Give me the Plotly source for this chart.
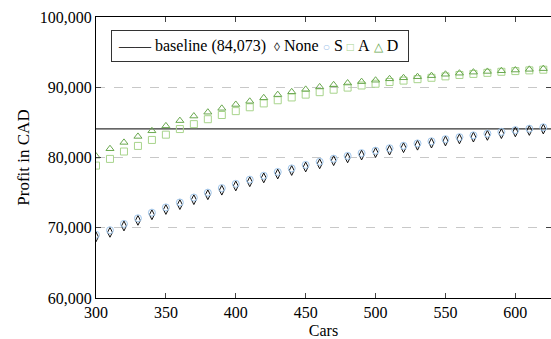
import plotly.graph_objects as go

cars = list(range(300, 621, 10))
baseline = 84073

none_vals = [68700, 69350, 70250, 71050, 71850, 72600, 73300, 74000, 74700, 75350,
             75950, 76550, 77100, 77650, 78150, 78650, 79100, 79550, 79950, 80350,
             80700, 81050, 81400, 81750, 82050, 82350, 82650, 82900, 83150, 83400,
             83650, 83850, 84050]
s_vals = [69000, 69650, 70550, 71350, 72150, 72900, 73600, 74300, 75000, 75650,
          76250, 76850, 77400, 77950, 78450, 78950, 79400, 79830, 80230, 80620,
          80970, 81320, 81670, 82010, 82310, 82610, 82900, 83150, 83400, 83650,
          83900, 84100, 84300]
a_vals = [78850, 79800, 80850, 81650, 82500, 83250, 84050, 84750, 85450, 86050,
          86600, 87150, 87700, 88150, 88550, 88950, 89300, 89650, 89950, 90250,
          90500, 90750, 90950, 91150, 91350, 91550, 91750, 91900, 92050, 92200,
          92300, 92400, 92500]
d_vals = [80200, 81250, 82150, 83000, 83800, 84500, 85250, 85900, 86450, 87000,
          87550, 88000, 88500, 88950, 89350, 89700, 90050, 90350, 90600, 90800,
          91000, 91200, 91350, 91500, 91650, 91850, 92000, 92150, 92250, 92350,
          92450, 92550, 92650]

x_ticks = [300, 350, 400, 450, 500, 550, 600]
y_ticks = [60000, 70000, 80000, 90000, 100000]

C_NONE = "#111111"
C_S = "#9fc5ea"
C_A = "#a8d48c"
C_D = "#6aa84f"

FONT = "Liberation Serif"

fig = go.Figure()
fig.add_hline(y=baseline, line=dict(color="#333333", width=1.3), layer="below")

series = [
    ("None", none_vals, "diamond-tall-open", C_NONE, 7),
    ("S", s_vals, "circle-open", C_S, 7),
    ("A", a_vals, "square-open", C_A, 7),
    ("D", d_vals, "triangle-up-open", C_D, 7),
]
for name, vals, sym, col, sz in series:
    fig.add_trace(go.Scatter(
        x=cars, y=vals, mode="markers", name=name, showlegend=False,
        marker=dict(symbol=sym, color=col, size=sz, line=dict(color=col, width=1)),
    ))

sp = "&nbsp;"
legend_text = (
    "<span style='color:#333333'>——</span>" + sp + "baseline (84,073)" + sp + sp
    + f"<span style='color:{C_NONE};font-size:12px'>◊</span>" + sp + "None" + sp
    + f"<span style='color:{C_S};font-size:12px'>○</span>" + sp + "S" + sp
    + f"<span style='color:{C_A};font-size:12px'>□</span>" + sp + "A" + sp
    + f"<span style='color:{C_D};font-size:12px'>△</span>" + sp + "D" + sp
)
fig.add_annotation(
    xref="paper", yref="paper", x=0.033, y=0.955, xanchor="left", yanchor="top",
    text=legend_text, showarrow=False, align="left",
    font=dict(family=FONT, size=16, color="black"),
    bordercolor="#333333", borderwidth=1, borderpad=6, bgcolor="white",
)

fig.update_layout(
    width=551, height=339,
    margin=dict(l=96, r=0, t=17, b=41),
    paper_bgcolor="white", plot_bgcolor="white",
    font=dict(family=FONT, size=16, color="black"),
    xaxis=dict(
        range=[300, 625.5], tickvals=x_ticks, showgrid=False, zeroline=False,
        showline=True, linecolor="black", linewidth=1, mirror="ticks",
        ticks="inside", ticklen=5, tickcolor="#444444",
        title=dict(text="Cars", font=dict(size=16), standoff=4),
        tickfont=dict(size=16),
    ),
    yaxis=dict(
        range=[60000, 100000], tickvals=y_ticks, tickformat=",d",
        showgrid=True, gridcolor="#c8c8c8", griddash="dash", gridwidth=1,
        zeroline=False, showline=True, linecolor="black", linewidth=1,
        mirror="ticks", ticks="inside", ticklen=5, tickcolor="#444444",
        title=dict(text="Profit in CAD", font=dict(size=17), standoff=5),
        tickfont=dict(size=16),
    ),
)

fig.write_html("out.html")
